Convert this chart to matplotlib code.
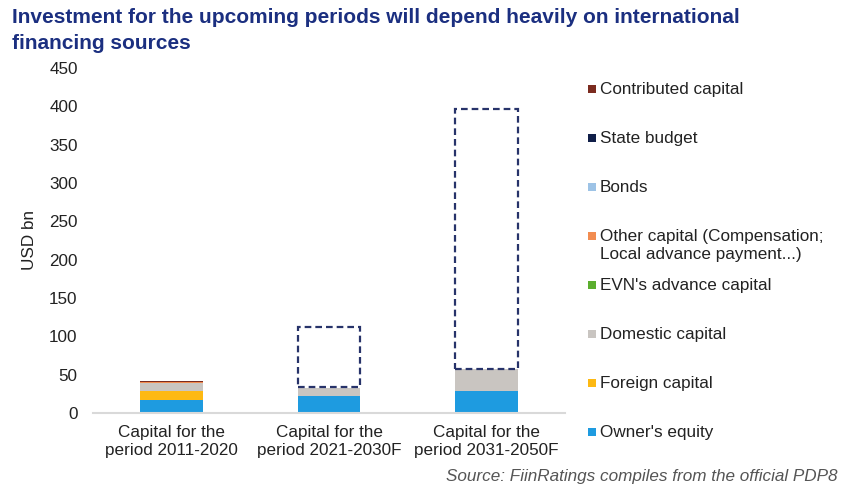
import numpy as np
import matplotlib.pyplot as plt
from matplotlib.patches import Rectangle

# --- datos ---
categorias = ['Capital for the\nperiod 2011-2020', 'Capital for the\nperiod 2021-2030F',
              'Capital for the\nperiod 2031-2050F']
owners_equity = [16.5, 22.0, 29.0]
foreign_capital = [12.5, 0.0, 0.0]
domestic_capital = [9.5, 11.0, 28.0]
evn_capital = [1.0, 0.0, 0.0]
other_capital = [0.6, 0.0, 0.0]
bonds = [0.3, 0.0, 0.0]
state_budget = [0.3, 0.0, 0.0]
contributed_capital = [1.0, 0.0, 0.0]

# caja punteada (financiamiento internacional)
caja_base = [np.nan, 33.5, 58.0]
caja_tope = [np.nan, 112.0, 396.0]

series = [
    ("Owner's equity", owners_equity, '#1E9BE0'),
    ('Foreign capital', foreign_capital, '#FDB913'),
    ('Domestic capital', domestic_capital, '#C9C5C1'),
    ("EVN's advance capital", evn_capital, '#5BAE2E'),
    ('Other capital (Compensation;\nLocal advance payment...)', other_capital, '#F28C50'),
    ('Bonds', bonds, '#9DC3E6'),
    ('State budget', state_budget, '#101E48'),
    ('Contributed capital', contributed_capital, '#7B2B1F'),
]

plt.rcParams['font.family'] = ['Liberation Sans', 'DejaVu Sans']
fs = 12.3
W, H = 850, 496

fig = plt.figure(figsize=(8.5, 4.96), dpi=100)
ax = fig.add_axes([93 / W, 1 - 413 / H, 472 / W, 345 / H])

x = np.arange(len(categorias))
ancho = 0.4
base = np.zeros(len(categorias))
for nombre, vals, color in series:
    ax.bar(x, vals, ancho, bottom=base, color=color, label=nombre, linewidth=0)
    base = base + np.array(vals)

for xi, b, t in zip(x, caja_base, caja_tope):
    if np.isnan(b):
        continue
    ax.add_patch(Rectangle((xi - ancho / 2, b), ancho, t - b, fill=False,
                           edgecolor='#27336A', linewidth=1.6, linestyle=(0, (3, 1.8))))

ax.set_xlim(-0.5, 2.5)
ax.set_ylim(0, 450)
ax.set_yticks(np.arange(0, 451, 50))
ax.set_xticks(x)
ax.set_xticklabels(categorias, fontsize=fs, color='#222222')
ax.tick_params(axis='y', labelsize=fs, colors='#222222', length=0, pad=11)
ax.tick_params(axis='x', length=0, pad=9)
for s in ['top', 'right', 'left']:
    ax.spines[s].set_visible(False)
ax.spines['bottom'].set_color('#D9D9D9')
ax.spines['bottom'].set_linewidth(1.5)
ax.set_ylabel('USD bn', fontsize=fs, color='#222222', labelpad=9)

# leyenda a la derecha (orden invertido), marcador alineado con la primera linea
y_leyenda = 89
for nombre, vals, color in series[::-1]:
    fig.add_artist(Rectangle(((592 - 4) / W, 1 - (y_leyenda + 4) / H), 8 / W, 8 / H,
                             transform=fig.transFigure, facecolor=color, edgecolor='none'))
    fig.text(600 / W, 1 - (y_leyenda - 7) / H, nombre, fontsize=fs, color='#222222',
             ha='left', va='top', linespacing=1.25)
    y_leyenda += 49

fig.text(12 / W, 1 - 8 / H,
         'Investment for the upcoming periods will depend heavily on international\nfinancing sources',
         fontsize=15, fontweight='bold', color='#1B2F80', va='top', ha='left',
         linespacing=1.45)
fig.text(838 / W, 1 - 477 / H, 'Source: FiinRatings compiles from the official PDP8',
         fontsize=fs, style='italic', color='#555555', ha='right', va='center')

fig.savefig('out.png', dpi=100)
